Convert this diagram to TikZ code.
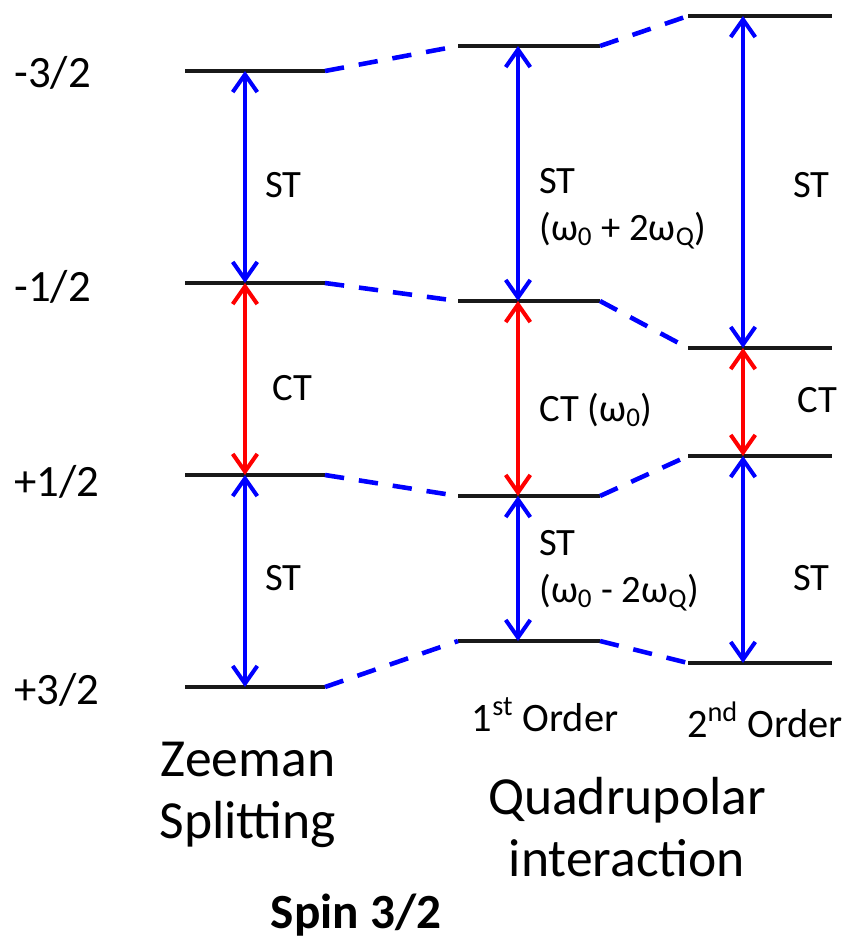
\documentclass[tikz,border=0pt]{standalone}
\usepackage{fontspec}
\setmainfont{Carlito}
\usepackage{tikz}
\usetikzlibrary{arrows.meta}

\tikzset{
  level/.style={line width=2.8pt, draw=black!90},
  link/.style={line width=2.6pt, blue, dash pattern=on 11pt off 8.5pt},
  trans/.style={line width=2.3pt, {Straight Barb[length=10pt,width=14pt]}-{Straight Barb[length=10pt,width=14pt]}},
  lbl/.style={anchor=west, inner sep=0pt, font=\fontsize{22}{26.5}\selectfont, align=left},
  mlbl/.style={anchor=west, inner sep=0pt, font=\fontsize{25.5}{30}\selectfont},
  order/.style={inner sep=0pt, font=\fontsize{23}{28}\selectfont},
  title/.style={inner sep=0pt, font=\fontsize{30.5}{35}\selectfont, align=center}
}

\begin{document}
\begin{tikzpicture}[x=0.02cm, y=-0.02cm]
    \useasboundingbox (0,0) rectangle (846,947);
    % energy levels: Zeeman, 1st order, 2nd order
    \foreach \n/\y in {a/71, b/283, c/475, d/687} {
        \coordinate (Z\n l) at (185,\y);
        \coordinate (Z\n) at (245,\y);
        \coordinate (Z\n r) at (325,\y);
    }
    \foreach \n/\y in {a/46, b/301, c/496, d/641} {
        \coordinate (F\n l) at (458,\y);
        \coordinate (F\n) at (518,\y);
        \coordinate (F\n r) at (600,\y);
    }
    \foreach \n/\y in {a/16, b/348, c/456, d/663} {
        \coordinate (S\n l) at (688,\y);
        \coordinate (S\n) at (743,\y);
        \coordinate (S\n r) at (832,\y);
    }
    \foreach \n in {a,b,c,d} {
        \draw[level] (Z\n l) -- (Z\n r);
        \draw[level] (F\n l) -- (F\n r);
        \draw[level] (S\n l) -- (S\n r);
        \draw[link] (Z\n r) -- (F\n l);
        \draw[link] (F\n r) -- (S\n l);
    }

    % transitions
    \draw[trans, blue] (Za) -- (Zb);
    \draw[trans, red] (Zb) -- (Zc);
    \draw[trans, blue] (Zc) -- (Zd);
    \draw[trans, blue] (Fa) -- (Fb);
    \draw[trans, red] (Fb) -- (Fc);
    \draw[trans, blue] (Fc) -- (Fd);
    \draw[trans, blue] (Sa) -- (Sb);
    \draw[trans, red] (Sb) -- (Sc);
    \draw[trans, blue] (Sc) -- (Sd);

    % m labels
    \node[mlbl] (ma) at (14,73) {-3/2};
    \node[mlbl] (mb) at (14,287) {-1/2};
    \node[mlbl] (mc) at (14,482) {+1/2};
    \node[mlbl] (md) at (14,690) {+3/2};

    % transition labels
    \node[lbl] (zst1) at (265,185) {ST};
    \node[lbl] (zct) at (272,388) {CT};
    \node[lbl] (zst2) at (265,578) {ST};
    \node[lbl] (fst1) at (539,209) {ST\\(ω\textsubscript{0} + 2ω\textsubscript{Q})};
    \node[lbl] (fct) at (539,410) {CT (ω\textsubscript{0})};
    \node[lbl] (fst2) at (539,571) {ST\\(ω\textsubscript{0} - 2ω\textsubscript{Q})};
    \node[lbl] (sst1) at (793,185) {ST};
    \node[lbl] (sct) at (797,400) {CT};
    \node[lbl] (sst2) at (793,578) {ST};

    % titles
    \node[order] (ord1) at (545,715) {1\textsuperscript{st} Order};
    \node[order] (ord2) at (765,720) {2\textsuperscript{nd} Order};
    \node[title] (zee) at (248,795) {Zeeman\\Splitting};
    \node[title] (quad) at (627,827) {Quadrupolar\\interaction};
    \node[inner sep=0pt, font=\fontsize{28}{34}\selectfont\bfseries] (spin) at (356,915) {Spin 3/2};
\end{tikzpicture}
\end{document}
